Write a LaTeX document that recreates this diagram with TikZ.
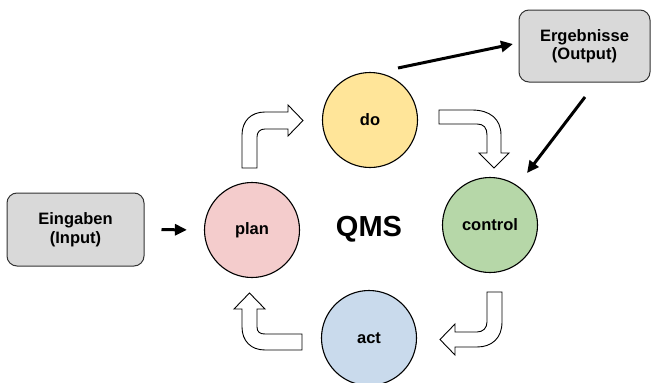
\documentclass[tikz,border=0pt]{standalone}
\usepackage{fontspec}
\setmainfont{Liberation Sans}
\usetikzlibrary{arrows.meta}
\definecolor{cdo}{HTML}{FFE599}
\definecolor{cplan}{HTML}{F4CCCC}
\definecolor{ccontrol}{HTML}{B6D7A8}
\definecolor{cact}{HTML}{C9DAEC}
\definecolor{cbox}{HTML}{D9D9D9}
\tikzset{
  phase/.style={circle, draw=black, line width=1.1pt, minimum size=95pt, inner sep=0pt, font=\bfseries\fontsize{16.5}{18}\selectfont},
  iobox/.style={rectangle, rounded corners=10pt, draw=black!80, line width=1pt, fill=cbox, minimum width=137pt, minimum height=73pt, align=center, font=\bfseries\fontsize{16.5}{18.5}\selectfont},
  hollow/.style={draw=black, line width=0.9pt, fill=white, line join=miter},
  thick arrow/.style={line width=3pt, -{Triangle[length=12pt,width=11pt]}}
}
\begin{document}
\begin{tikzpicture}[x=1pt,y=-1pt]
\useasboundingbox (0,0) rectangle (651,383);
\node[phase, fill=cdo] (do) at (370,120) {do};
\node[phase, fill=cplan] (plan) at (252,230) {plan};
\node[phase, fill=ccontrol] (control) at (490,225) {control};
\node[phase, fill=cact] (act) at (369,338) {act};
\node[font=\bfseries\fontsize{29}{32}\selectfont] (qms) at (369,229) {QMS};
\node[iobox] (in) at (75.5,229.5) {Eingaben\\(Input)};
\node[iobox, minimum width=131pt, minimum height=72pt] (out) at (584.5,46) {Ergebnisse\\(Output)};
\coordinate (doout) at (398,68);
\coordinate (outin) at (513,44);
\coordinate (outdown) at (585,97);
\coordinate (ctrlin) at (527,173);
\draw[thick arrow, shorten <=17pt, shorten >=17pt] (in.east) -- (plan.west);
\draw[thick arrow] (doout) -- (outin);
\draw[thick arrow] (outdown) -- (ctrlin);
% hollow bent arrows
\draw[hollow] (242,168) -- (242,135) .. controls (242,121) and (251,112) .. (265,112) -- (288,112) -- (288,105) -- (303,120.5) -- (288,136) -- (288,129) -- (265,129) .. controls (260,129) and (257,132) .. (257,137) -- (257,168) -- cycle;
\draw[hollow] (439,110) -- (472,110) .. controls (490,110) and (501,119) .. (501,135) -- (501,153) -- (509,153) -- (494,168) -- (479,153) -- (487,153) -- (487,135) .. controls (487,128) and (484,124) .. (477,124) -- (439,124) -- cycle;
\draw[hollow] (487,292) -- (502,292) -- (502,322) .. controls (502,338) and (492,347) .. (477,347) -- (455,347) -- (455,355) -- (440,339.5) -- (455,324) -- (455,332) -- (477,332) .. controls (483,332) and (487,328) .. (487,322) -- cycle;
\draw[hollow] (302,334) -- (302,350) -- (265,350) .. controls (251,350) and (242,341) .. (242,327) -- (242,309) -- (234,309) -- (249.5,293) -- (265,309) -- (257,309) -- (257,327) .. controls (257,332) and (260,334) .. (265,334) -- cycle;
\end{tikzpicture}
\end{document}
